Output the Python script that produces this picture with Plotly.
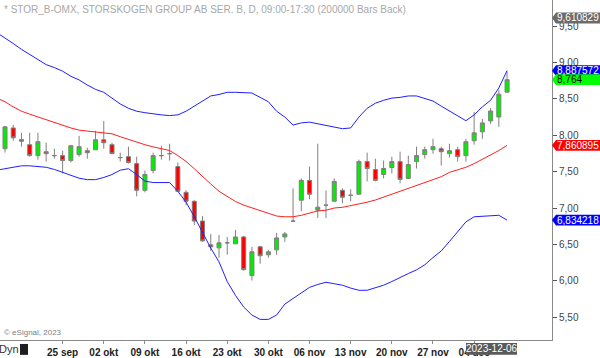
import plotly.graph_objects as go

# ---------------- data ----------------
bar_index = list(range(62))
opens = [7.815, 8.10, 7.94, 7.87, 7.72, 7.774, 7.72, 7.72, 7.652, 7.734,
         7.788, 7.80, 7.938, 7.87, 7.693, 7.706, 7.611, 7.243, 7.516, 7.72,
         7.747, 7.57, 7.216, 7.093, 6.821, 6.494, 6.453, 6.522, 6.508, 6.603,
         6.072, 6.467, 6.358, 6.426, 6.603, 6.82, 7.107, 7.38, 6.971, 7.039,
         7.093, 7.243, 7.175, 7.189, 7.638, 7.529, 7.461, 7.557, 7.638, 7.407,
         7.638, 7.734, 7.802, 7.815, 7.747, 7.802, 7.72, 7.924, 8.047, 8.197,
         8.251, 8.592]
highs = [8.13, 8.142, 8.033, 8.033, 8.033, 7.897, 7.815, 7.788, 7.856, 7.992,
         7.829, 8.06, 8.197, 7.897, 7.761, 7.843, 7.706, 7.516, 7.761, 7.856,
         7.883, 7.625, 7.243, 7.107, 6.889, 6.644, 6.631, 6.603, 6.699, 6.617,
         6.467, 6.481, 6.426, 6.658, 6.671, 7.271, 7.407, 7.57, 7.883, 7.243,
         7.407, 7.271, 7.257, 7.665, 7.761, 7.679, 7.652, 7.706, 7.774, 7.72,
         7.843, 7.843, 7.951, 7.843, 7.883, 7.843, 7.951, 8.319, 8.224, 8.374,
         8.619, 8.878]
lows = [7.761, 7.924, 7.843, 7.706, 7.665, 7.638, 7.679, 7.475, 7.625, 7.706,
        7.679, 7.80, 7.815, 7.747, 7.638, 7.611, 7.16, 7.216, 7.475, 7.665,
        7.652, 7.23, 7.039, 6.767, 6.535, 6.413, 6.317, 6.358, 6.508, 6.14,
        6.004, 6.236, 6.317, 6.358, 6.535, 6.808, 6.957, 7.121, 6.862, 6.862,
        7.093, 7.066, 7.093, 7.189, 7.366, 7.366, 7.407, 7.475, 7.339, 7.407,
        7.543, 7.679, 7.747, 7.584, 7.693, 7.638, 7.638, 7.87, 7.951, 8.156,
        8.115, 8.592]
closes = [8.115, 7.965, 7.918, 7.72, 7.911, 7.747, 7.72, 7.652, 7.856, 7.843,
          7.761, 7.938, 7.897, 7.747, 7.693, 7.625, 7.243, 7.461, 7.72, 7.72,
          7.747, 7.23, 7.093, 6.821, 6.549, 6.467, 6.522, 6.522, 6.603, 6.154,
          6.399, 6.345, 6.399, 6.59, 6.644, 6.82, 7.38, 7.189, 7.012, 7.039,
          7.366, 7.148, 7.175, 7.638, 7.543, 7.38, 7.543, 7.638, 7.393, 7.597,
          7.72, 7.802, 7.843, 7.774, 7.788, 7.706, 7.911, 8.033, 8.169, 8.333,
          8.564, 8.764]

band_index = list(range(-1, 62))
upper_band = [9.41, 9.34, 9.26, 9.18, 9.11, 9.03, 8.97, 8.93, 8.88, 8.81,
              8.76, 8.69, 8.63, 8.59, 8.51, 8.43, 8.37, 8.33, 8.31, 8.29,
              8.28, 8.27, 8.28, 8.33, 8.40, 8.48, 8.54, 8.56, 8.59, 8.59,
              8.59, 8.58, 8.52, 8.46, 8.33, 8.25, 8.14, 8.17, 8.18, 8.16,
              8.13, 8.12, 8.09, 8.10, 8.25, 8.37, 8.44, 8.48, 8.51, 8.52,
              8.54, 8.54, 8.51, 8.47, 8.40, 8.33, 8.27, 8.20, 8.28, 8.39,
              8.48, 8.65, 8.887572]
middle_band = [8.51, 8.46, 8.39, 8.33, 8.29, 8.25, 8.21, 8.17, 8.13, 8.10,
               8.07, 8.06, 8.05, 8.03, 8.02, 7.98, 7.94, 7.90, 7.87, 7.84,
               7.82, 7.79, 7.72, 7.64, 7.54, 7.43, 7.33, 7.23, 7.16, 7.09,
               7.04, 7.00, 6.96, 6.92, 6.89, 6.88, 6.88, 6.90, 6.93, 6.96,
               6.97, 7.00, 7.01, 7.03, 7.05, 7.08, 7.11, 7.15, 7.19, 7.23,
               7.27, 7.31, 7.35, 7.39, 7.43, 7.49, 7.52, 7.56, 7.61, 7.67,
               7.72, 7.79, 7.860895]
lower_band = [7.52, 7.54, 7.57, 7.58, 7.58, 7.57, 7.56, 7.53, 7.49, 7.45,
              7.41, 7.39, 7.39, 7.42, 7.46, 7.52, 7.54, 7.46, 7.37, 7.35,
              7.35, 7.35, 7.23, 7.08, 6.88, 6.66, 6.45, 6.26, 5.99, 5.80,
              5.64, 5.53, 5.47, 5.47, 5.53, 5.68, 5.76, 5.84, 5.91, 5.95,
              5.98, 5.96, 5.94, 5.90, 5.87, 5.87, 5.90, 5.94, 5.99, 6.05,
              6.10, 6.15, 6.22, 6.32, 6.41, 6.54, 6.67, 6.81, 6.88, 6.89,
              6.90, 6.90, 6.834218]

x_tick_pos = [7, 12, 17, 22, 27, 32, 37, 42, 47, 52, 57]
x_tick_labels = ["25 sep", "02 okt", "09 okt", "16 okt", "23 okt", "30 okt",
                 "06 nov", "13 nov", "20 nov", "27 nov", "04 dec"]
y_tick_vals = [5.5, 6.0, 6.5, 7.0, 7.5, 8.0, 8.5, 9.0, 9.5]
y_tick_labels = ["5,50", "6,00", "6,50", "7,00", "7,50", "8,00", "8,50", "9,00", "9,50"]

tag_values = [9.610829, 6.834218, 7.860895, 8.887572, 8.764]
tag_texts = ["9,610829", "6,834218", "7,860895", "8,887572", "8,764"]
tag_bg = ["#6b6b6b", "#0000ff", "#ff0000", "#0000ff", "#00ff00"]
tag_fg = ["#ffffff", "#ffffff", "#ffffff", "#ffffff", "#000000"]

title_text = "* STOR_B-OMX, STORSKOGEN GROUP AB SER. B, D, 09:00-17:30 (200000 Bars Back)"
last_date = "2023-12-06"

# ---------------- geometry ----------------
W, H = 600, 358
ML, MR, MT, MB = 0, 48, 0, 15
PW, PH = W - ML - MR, H - MT - MB
Y_MIN, Y_MAX = 5.187, 9.858
X_MIN, X_MAX = -0.608, 66.46
px_per_price = PH / (Y_MAX - Y_MIN)

FONT = "Arial, 'Liberation Sans', sans-serif"

fig = go.Figure()

fig.add_trace(go.Scatter(x=band_index, y=upper_band, mode="lines",
                         line=dict(color="#1f1fff", width=1), hoverinfo="skip"))
fig.add_trace(go.Scatter(x=band_index, y=lower_band, mode="lines",
                         line=dict(color="#1f1fff", width=1), hoverinfo="skip"))
fig.add_trace(go.Scatter(x=band_index, y=middle_band, mode="lines",
                         line=dict(color="#ff1f1f", width=1), hoverinfo="skip"))

fig.add_trace(go.Candlestick(
    x=bar_index, open=opens, high=highs, low=lows, close=closes,
    increasing=dict(line=dict(color="#808080", width=1), fillcolor="#00ee00"),
    decreasing=dict(line=dict(color="#808080", width=1), fillcolor="#ff0000"),
    whiskerwidth=0,
))

shapes = []
annotations = []

# right-axis price tags
half = 5.5 / px_per_price
for v, t, bg, fg in zip(tag_values, tag_texts, tag_bg, tag_fg):
    x_tip = 1.0
    x_box = 1.0 + 4 / PW
    x_end = 1.0 + MR / PW
    shapes.append(dict(type="path", xref="paper", yref="y",
                       path=f"M {x_tip},{v} L {x_box},{v + half} L {x_end},{v + half} "
                            f"L {x_end},{v - half} L {x_box},{v - half} Z",
                       fillcolor=bg, line=dict(width=0), layer="above"))
    annotations.append(dict(xref="paper", yref="y", x=1.0, y=v, xshift=3,
                            xanchor="left", yanchor="middle", text=t,
                            showarrow=False, font=dict(family=FONT, size=10, color=fg)))

# date box at the bottom
bx0, bx1 = 466 / PW, 517 / PW
by0, by1 = -(358 - 343) / PH, -(346 - 343) / PH
shapes.append(dict(type="rect", xref="paper", yref="paper", x0=bx0, x1=bx1, y0=by0, y1=by1,
                   fillcolor="#5a5a5a", line=dict(width=0), layer="above"))
annotations.append(dict(xref="paper", yref="paper", x=(bx0 + bx1) / 2, y=(by0 + by1) / 2,
                        xanchor="center", yanchor="middle", text=last_date, showarrow=False,
                        font=dict(family=FONT, size=10, color="#ffffff")))

# bottom-left icon
shapes.append(dict(type="rect", xref="paper", yref="paper", x0=20 / PW, x1=28 / PW,
                   y0=-(358 - 343) / PH, y1=-(347 - 343) / PH,
                   fillcolor="#1e1e1e", line=dict(width=0), layer="above"))
annotations.append(dict(xref="paper", yref="paper", x=0, y=-(352 - 343) / PH, xshift=-3,
                        xanchor="left", yanchor="middle", text="Dyn", showarrow=False,
                        font=dict(family=FONT, size=11, color="#333333")))

# title and copyright
annotations.append(dict(xref="paper", yref="paper", x=0, y=1, xshift=2, yshift=-2,
                        xanchor="left", yanchor="top", text=title_text, showarrow=False,
                        font=dict(family=FONT, size=10, color="#a8a8a8")))
annotations.append(dict(xref="paper", yref="paper", x=0, y=(343 - 335) / PH, xshift=2,
                        xanchor="left", yanchor="middle", text="© eSignal, 2023", showarrow=False,
                        font=dict(family=FONT, size=8, color="#808080")))

fig.update_layout(
    width=W, height=H,
    margin=dict(l=ML, r=MR, t=MT, b=MB, pad=0),
    paper_bgcolor="#ffffff", plot_bgcolor="#ffffff",
    showlegend=False,
    shapes=shapes, annotations=annotations,
    font=dict(family=FONT, size=10, color="#333333"),
    xaxis=dict(range=[X_MIN, X_MAX], rangeslider=dict(visible=False),
               showgrid=False, zeroline=False,
               showline=True, linecolor="#8a8a8a", linewidth=1,
               ticks="outside", ticklen=3, tickcolor="#8a8a8a",
               tickvals=x_tick_pos, ticktext=[f"<b>{t}</b>" for t in x_tick_labels],
               tickfont=dict(family=FONT, size=10, color="#222222")),
    yaxis=dict(range=[Y_MIN, Y_MAX], side="right",
               showgrid=False, zeroline=False,
               showline=True, linecolor="#8a8a8a", linewidth=1,
               ticks="outside", ticklen=4, tickcolor="#555555",
               tickvals=y_tick_vals, ticktext=y_tick_labels,
               tickfont=dict(family=FONT, size=10, color="#444444")),
)

fig.write_html("out.html",
               config=dict(displayModeBar=False, staticPlot=True),
               post_script="document.body.style.margin='0';document.body.style.overflow='hidden';")
